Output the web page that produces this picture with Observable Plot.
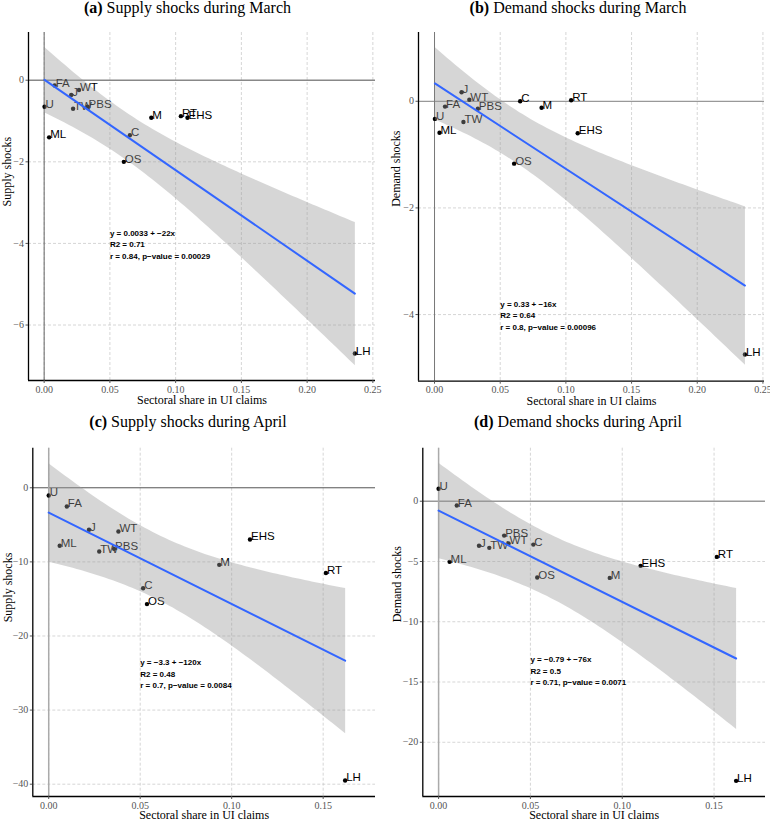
<!DOCTYPE html>
<html><head><meta charset="utf-8">
<script src="https://cdn.jsdelivr.net/npm/d3@7"></script>
<script src="https://cdn.jsdelivr.net/npm/@observablehq/plot@0.6"></script>
<style>
body{margin:0;background:#fff;}
#root{position:relative;width:770px;height:820px;overflow:hidden;}
.title{position:absolute;white-space:nowrap;font-family:"Liberation Serif",serif;font-size:16px;line-height:16px;transform:translateX(-50%);color:#000;}
.svgwrap{position:absolute;}
</style></head><body><div id="root"></div>
<script>
// Sector codes
const sectors = ["U","FA","J","WT","TW","PBS","M","RT","EHS","ML","C","OS","LH"];
// x: sectoral share in UI claims
const marchShare = [0.0003,0.008,0.0206,0.0265,0.022,0.033,0.0815,0.104,0.109,0.0038,0.0652,0.0606,0.2363];
const aprilShare = [0.0,0.0099,0.022,0.0381,0.0276,0.0357,0.0932,0.1515,0.110,0.006,0.0516,0.0537,0.162];
// y: shocks
const supplyMarch = [-0.65,-0.13,-0.36,-0.24,-0.70,-0.65,-0.92,-0.88,-0.92,-1.40,-1.35,-2.0,-6.70];
const demandMarch = [-0.33,-0.10,0.17,0.03,-0.39,-0.14,-0.12,0.02,-0.60,-0.59,0.0,-1.17,-4.75];
const supplyApril = [-1.04,-2.52,-5.67,-5.9,-8.6,-8.24,-10.4,-11.5,-6.98,-7.83,-13.55,-15.7,-39.5];
const demandApril = [1.03,-0.36,-3.70,-3.5,-3.87,-2.85,-6.36,-4.62,-5.36,-5.03,-3.6,-6.33,-23.2];
// tick labels
const xTicksMarch = [0,0.05,0.10,0.15,0.20,0.25];
const xTicksApril = [0,0.05,0.10,0.15];
const yTicksA = [0,-2,-4,-6];
const yTicksB = [0,-2,-4];
const yTicksC = [0,-10,-20,-30,-40];
const yTicksD = [0,-5,-10,-15,-20];
// texts
const titles = [["(a)","Supply shocks during March"],["(b)","Demand shocks during March"],["(c)","Supply shocks during April"],["(d)","Demand shocks during April"]];
const yLabels = ["Supply shocks","Demand shocks","Supply shocks","Demand shocks"];
const xLabel = "Sectoral share in UI claims";
const annotations = [
  "y = 0.0033 + \u221222x\nR2 = 0.71\nr = 0.84, p\u2212value = 0.00029",
  "y = 0.33 + \u221216x\nR2 = 0.64\nr = 0.8, p\u2212value = 0.00096",
  "y = \u22123.3 + \u2212120x\nR2 = 0.48\nr = 0.7, p\u2212value = 0.0084",
  "y = \u22120.79 + \u221276x\nR2 = 0.5\nr = 0.71, p\u2212value = 0.0071"
];
const annotX = [0.05,0.05,0.05,0.05];
const annotY = [-4,-4,-25,-14];

const panels = [
  {left:0, top:0, mt:32, mr:10, mb:30, ml:28, xs:marchShare, ys:supplyMarch, xd:[-0.0119,0.252], yd:[-7.36,1.17], xt:xTicksMarch, yt:yTicksA, vline:"#666", vw:1, hline:"#888", hw:1.3, ylo:-21, xlo:20, tx:187.5, ty:0},
  {left:385, top:0, mt:32, mr:6, mb:29.3, ml:33, xs:marchShare, ys:demandMarch, xd:[-0.0122,0.2512], yd:[-5.25,1.29], xt:xTicksMarch, yt:yTicksB, vline:"#777", vw:1, hline:"#999", hw:1.3, ylo:-22, xlo:20, tx:578, ty:0},
  {left:0, top:410, mt:37.7, mr:10, mb:24, ml:32.3, xs:aprilShare, ys:supplyApril, xd:[-0.0087,0.1786], yd:[-41.66,5.34], xt:xTicksApril, yt:yTicksC, vline:"#aaa", vw:1.5, hline:"#555", hw:1, ylo:-25, xlo:18.5, tx:188, ty:414},
  {left:385, top:410, mt:37.7, mr:5, mb:24, ml:37.3, xs:aprilShare, ys:demandApril, xd:[-0.0086,0.178], yd:[-24.5,4.4], xt:xTicksApril, yt:yTicksD, vline:"#aaa", vw:1.5, hline:"#999", hw:1.5, ylo:-26, xlo:18.5, tx:578, ty:414}
];

const root = document.getElementById("root");
panels.forEach((p, i) => {
  const data = sectors.map((s, j) => ({s, x: p.xs[j], y: p.ys[j]}));
  const gridStyle = {stroke:"#c4c4c4", strokeDasharray:"3,2", strokeWidth:0.7};
  const svg = Plot.plot({
    width: 385, height: 410,
    marginTop: p.mt, marginRight: p.mr, marginBottom: p.mb, marginLeft: p.ml,
    x: {domain: p.xd},
    y: {domain: p.yd},
    style: {background: "transparent", fontFamily: "'Liberation Serif', serif", fontSize: "10px", overflow: "visible"},
    marks: [
      Plot.ruleX(p.xt, gridStyle),
      Plot.ruleY(p.yt.filter(v => v !== 0), gridStyle),
      Plot.ruleY([0], {stroke: p.hline, strokeWidth: p.hw}),
      Plot.ruleX([0], {stroke: p.vline, strokeWidth: p.vw}),
      Plot.dot(data, {x: "x", y: "y", r: 2.2, fill: "black", stroke: "none"}),
      Plot.text(data, {x: "x", y: "y", text: "s", textAnchor: "start", lineAnchor: "bottom", dx: 1, dy: 1, fontSize: 11.5, fontFamily: "'Liberation Sans', Arial, sans-serif", fill: "black"}),
      Plot.linearRegressionY(data, {x: "x", y: "y", stroke: "#3366ff", strokeWidth: 2, fill: "#999999", fillOpacity: 0.4, ci: 0.95}),
      Plot.text([annotations[i]], {x: [annotX[i]], y: [annotY[i]], text: d => d, textAnchor: "start", lineAnchor: "middle", lineHeight: 1.44, fontSize: 8, fontWeight: "bold", fontFamily: "'Liberation Sans', Arial, sans-serif", fill: "black"}),
      Plot.ruleX([p.xd[0]], {stroke: "black", strokeWidth: 1.3}),
      Plot.ruleY([p.yd[0]], {stroke: "black", strokeWidth: 1.3}),
      Plot.axisX({ticks: p.xt, tickFormat: d3.format(".2f"), tickSize: 3, tickPadding: 2, label: null, color: "#555"}),
      Plot.axisY({ticks: p.yt, tickFormat: d3.format("d"), tickSize: 2.5, tickPadding: 2, label: null, color: "#555"}),
      Plot.text([xLabel], {frameAnchor: "bottom", dy: p.xlo, text: d => d, lineAnchor: "middle", fontSize: 12, fill: "black"}),
      Plot.text([yLabels[i]], {frameAnchor: "left", dx: p.ylo, text: d => d, rotate: -90, lineAnchor: "middle", fontSize: 12, fill: "black"})
    ]
  });
  const wrap = document.createElement("div");
  wrap.className = "svgwrap";
  wrap.style.left = p.left + "px";
  wrap.style.top = p.top + "px";
  wrap.appendChild(svg);
  root.appendChild(wrap);
  const t = document.createElement("div");
  t.className = "title";
  t.style.left = p.tx + "px";
  t.style.top = p.ty + "px";
  t.innerHTML = "<b>" + titles[i][0] + "</b> " + titles[i][1];
  root.appendChild(t);
});
</script>
</body></html>
